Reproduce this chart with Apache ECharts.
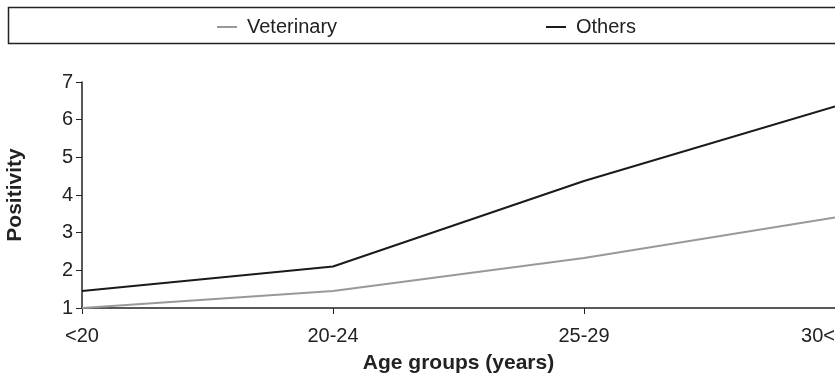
<!DOCTYPE html>
<html>
<head>
<meta charset="utf-8">
<script src="https://cdn.jsdelivr.net/npm/echarts@6/dist/echarts.min.js"></script>
<style>
  html, body { margin: 0; padding: 0; background: #fff; }
  #chart { width: 835px; height: 376px; }
</style>
</head>
<body>
<div id="chart"></div>
<script>
const categories = ['<20', '20-24', '25-29', '30<'];
const veterinary = [1.0, 1.45, 2.33, 3.4];
const others = [1.45, 2.1, 4.37, 6.35];

const chart = echarts.init(document.getElementById('chart'));
const font = 'Liberation Sans, Arial, sans-serif';

// legend entries share one look
const legendStyle = {
    top: 12,
    itemWidth: 20,
    itemHeight: 2,
    icon: 'rect',
    textStyle: { fontFamily: font, fontSize: 20, color: '#222', padding: [0, 0, 0, 5] }
};

let option = {
    animation: false,
    graphic: [{
        type: 'rect',
        shape: { x: 8.5, y: 7.5, width: 830, height: 36 },
        style: { fill: 'none', stroke: '#222', lineWidth: 1.5 }
    }],
    legend: [
        Object.assign({ left: 212, data: ['Veterinary'] }, legendStyle),
        Object.assign({ left: 541, data: ['Others'] }, legendStyle)
    ],
    grid: { left: 82, right: 0, top: 82, bottom: 68, outerBoundsMode: 'none' },
    xAxis: {
        type: 'category',
        data: categories,
        boundaryGap: false,
        name: 'Age groups (years)',
        nameLocation: 'middle',
        nameGap: 45,
        nameTextStyle: { fontFamily: font, fontSize: 21, fontWeight: 'bold', color: '#222' },
        axisLine: { lineStyle: { color: '#222', width: 1.5 } },
        axisTick: { alignWithLabel: true, length: 6, lineStyle: { color: '#222' } },
        axisLabel: {
            fontFamily: font, fontSize: 20, color: '#222', margin: 18,
            alignMaxLabel: 'right'
        }
    },
    yAxis: {
        type: 'value',
        min: 1,
        max: 7,
        interval: 1,
        name: 'Positivity',
        nameLocation: 'middle',
        nameGap: 56,
        nameTextStyle: { fontFamily: font, fontSize: 21, fontWeight: 'bold', color: '#222' },
        axisLine: { show: true, lineStyle: { color: '#222', width: 1.5 } },
        axisTick: { show: true, length: 6, lineStyle: { color: '#222' } },
        axisLabel: { fontFamily: font, fontSize: 20, color: '#222', margin: 9 },
        splitLine: { show: false }
    },
    series: [
        {
            name: 'Veterinary',
            type: 'line',
            data: veterinary,
            showSymbol: false,
            color: '#999999',
            lineStyle: { width: 2, color: '#999999' }
        },
        {
            name: 'Others',
            type: 'line',
            data: others,
            showSymbol: false,
            color: '#1a1a1a',
            lineStyle: { width: 2, color: '#1a1a1a' }
        }
    ]
};

chart.setOption(option);
</script>
</body>
</html>
